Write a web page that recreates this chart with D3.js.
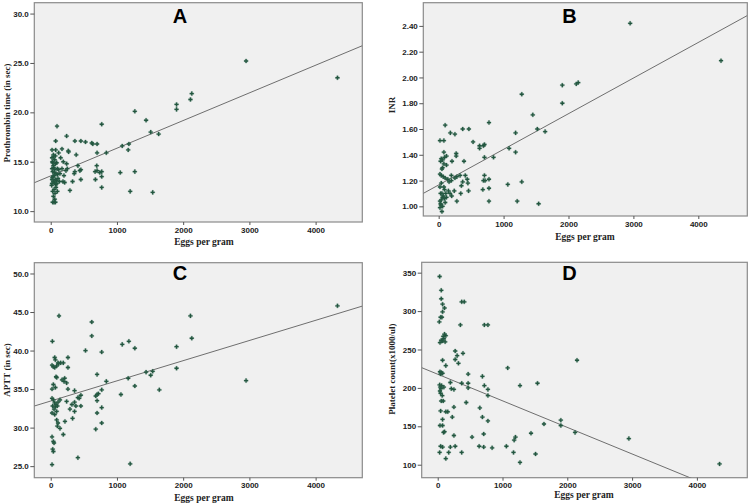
<!DOCTYPE html>
<html>
<head>
<meta charset="utf-8">
<script src="https://cdn.jsdelivr.net/npm/d3@7"></script>
<style>
    body { margin: 0; background: #fff; }
    svg { display: block; }
    .tick text { font-family: "Liberation Sans", Arial, sans-serif; font-size: 8px; font-weight: bold; fill: #222; }
    .tick line, .domain { stroke: #555; }
</style>
</head>
<body>
<svg id="chart" width="753" height="503"></svg>
<script>
// region Data (eggs per gram, measured value)
const eggTicks = [0, 1000, 2000, 3000, 4000];

const prothrombin = [
    [4330, 23.5], [2950, 25.2], [2130, 21.9], [2110, 21.3], [1900, 20.8], [1900, 20.3], [1270, 20.1], [1440, 19.2],
    [1510, 18.0], [1630, 17.8], [1180, 16.8], [1080, 16.6], [1170, 16.2], [1270, 14.0], [1050, 13.9], [1200, 12.0],
    [1540, 11.9], [770, 18.8], [840, 15.9], [700, 16.8], [700, 15.9], [620, 16.9], [635, 16.8], [525, 17.0],
    [455, 17.1], [365, 17.1], [240, 17.6], [95, 18.6], [75, 17.1], [770, 14.0], [740, 13.9], [700, 14.1],
    [670, 14.0], [695, 14.6], [770, 13.5], [675, 13.2], [770, 12.4], [410, 14.6], [455, 14.2], [440, 14.1],
    [365, 14.0], [355, 13.8], [330, 13.0], [455, 13.2], [290, 12.1], [385, 15.7], [265, 16.1], [270, 16.0],
    [170, 16.3], [120, 15.9], [20, 16.2], [75, 16.2], [40, 15.7], [20, 15.4], [60, 15.2], [150, 15.4],
    [25, 15.0], [70, 14.8], [90, 14.9], [40, 14.6], [20, 14.3], [60, 14.2], [100, 14.3], [30, 14.0],
    [80, 13.8], [50, 13.6], [20, 13.2], [70, 13.2], [110, 13.3], [40, 13.0], [90, 12.8], [60, 12.9],
    [20, 12.8], [130, 13.0], [80, 12.4], [50, 12.2], [100, 12.0], [30, 12.0], [65, 11.8], [40, 11.5],
    [60, 11.2], [30, 10.9], [70, 10.9], [50, 10.9], [170, 14.3], [230, 14.1], [140, 13.8], [200, 13.6],
    [190, 15.0], [240, 14.8], [120, 14.2], [250, 14.3], [210, 12.9], [185, 13.0], [30, 14.9], [45, 14.4],
    [55, 13.9], [35, 13.5], [85, 13.1], [15, 12.6], [75, 12.7], [100, 13.7], [25, 13.4], [45, 15.5], [70, 15.6]
];

const inr = [
    [4350, 2.13], [2950, 2.42], [2120, 1.95], [2150, 1.96], [1905, 1.94], [1905, 1.80], [1280, 1.87], [1450, 1.71],
    [1520, 1.60], [1640, 1.58], [1185, 1.57], [1085, 1.45], [1185, 1.42], [1280, 1.19], [1065, 1.17], [1210, 1.04],
    [1540, 1.02], [775, 1.65], [845, 1.38], [705, 1.48], [690, 1.47], [630, 1.47], [630, 1.45], [530, 1.50],
    [705, 1.38], [465, 1.60], [370, 1.60], [250, 1.56], [180, 1.57], [100, 1.63], [270, 1.41], [270, 1.39],
    [390, 1.35], [205, 1.35], [705, 1.24], [715, 1.20], [690, 1.20], [775, 1.21], [775, 1.14], [680, 1.13],
    [775, 1.04], [20, 1.51], [80, 1.51], [80, 1.42], [40, 1.37], [30, 1.35], [60, 1.36], [90, 1.38],
    [120, 1.39], [80, 1.33], [120, 1.32], [50, 1.29], [60, 1.30], [20, 1.25], [40, 1.24], [70, 1.23],
    [100, 1.22], [140, 1.21], [195, 1.24], [250, 1.22], [280, 1.23], [330, 1.24], [410, 1.24], [440, 1.21],
    [370, 1.19], [450, 1.18], [350, 1.16], [195, 1.20], [160, 1.19], [40, 1.18], [20, 1.15], [80, 1.15],
    [90, 1.13], [50, 1.10], [30, 1.10], [70, 1.08], [110, 1.10], [60, 1.07], [150, 1.12], [40, 1.05],
    [20, 1.04], [90, 1.06], [30, 1.02], [60, 1.00], [120, 1.07], [200, 1.08], [240, 1.12], [175, 1.10],
    [280, 1.04], [340, 1.10], [460, 1.12], [50, 0.96], [20, 0.99], [35, 1.01], [100, 1.03]
];

const aptt = [
    [4330, 45.8], [2950, 36.1], [2110, 44.5], [2130, 41.6], [1900, 40.5], [1900, 37.7], [1540, 37.3], [1510, 36.8],
    [1440, 37.2], [1640, 34.9], [1270, 40.3], [1180, 41.2], [1080, 40.8], [1170, 36.4], [1270, 35.4], [1060, 34.3],
    [1200, 25.3], [770, 39.8], [840, 36.0], [700, 36.9], [620, 43.7], [620, 41.9], [525, 40.0], [125, 44.5],
    [25, 41.2], [770, 34.9], [700, 34.3], [680, 34.1], [720, 34.4], [700, 33.5], [770, 32.6], [700, 31.9],
    [770, 30.6], [680, 29.8], [60, 39.1], [70, 38.8], [260, 39.1], [110, 38.4], [120, 38.3], [20, 38.1],
    [40, 37.9], [60, 37.8], [90, 38.0], [150, 38.4], [190, 38.4], [260, 37.8], [80, 36.6], [90, 36.5],
    [170, 36.2], [210, 36.4], [240, 35.8], [200, 36.0], [40, 35.6], [70, 35.2], [20, 35.0], [260, 35.0],
    [360, 34.8], [430, 33.8], [455, 34.2], [410, 33.9], [20, 33.8], [40, 33.6], [60, 33.2], [80, 33.0],
    [100, 32.8], [30, 32.8], [70, 32.7], [110, 33.3], [50, 32.4], [90, 32.1], [20, 31.9], [60, 31.7],
    [140, 33.6], [240, 33.4], [320, 33.0], [380, 32.8], [455, 32.8], [360, 33.3], [290, 32.4], [360, 32.1],
    [330, 31.2], [215, 30.8], [90, 31.0], [110, 30.6], [100, 30.2], [140, 29.9], [190, 29.1], [20, 28.8],
    [40, 28.2], [50, 28.0], [30, 27.2], [40, 26.9], [410, 26.1], [20, 25.2]
];

const platelets = [
    [4350, 101], [2950, 134], [2150, 236], [2120, 142], [1900, 158], [1900, 151], [1640, 153], [1540, 206],
    [1510, 114], [1440, 141], [1270, 203], [1270, 103], [1200, 136], [1180, 132], [1170, 116], [1080, 226],
    [1060, 124], [840, 122], [775, 282], [720, 282], [775, 198], [720, 203], [775, 190], [775, 157],
    [690, 215], [650, 174], [690, 162], [710, 140], [710, 123], [640, 124], [530, 136], [470, 218],
    [470, 206], [470, 200], [440, 181], [370, 312], [410, 312], [350, 282], [390, 245], [370, 206],
    [320, 232], [300, 242], [270, 248], [270, 237], [250, 198], [250, 175], [250, 138], [270, 124],
    [370, 116], [210, 199], [195, 207], [225, 162], [195, 123], [170, 116], [125, 108], [30, 345],
    [55, 327], [55, 316], [75, 309], [105, 304], [75, 299], [45, 292], [65, 292], [25, 286],
    [105, 270], [85, 267], [125, 268], [55, 262], [35, 259], [75, 261], [115, 260], [95, 264],
    [75, 236], [125, 229], [35, 221], [55, 220], [75, 219], [45, 218], [30, 204], [40, 201],
    [50, 199], [35, 196], [45, 193], [60, 203], [95, 201], [70, 190], [55, 183], [85, 183],
    [45, 170], [125, 169], [155, 169], [75, 159], [35, 151], [75, 151], [105, 143], [90, 142],
    [45, 124], [75, 123], [30, 116]
];

// fit lines: [intercept, slope]
const ptFit = [13.57, 0.0028];
const inrFit = [1.166, 0.0002764];
const apttFit = [33.45, 0.002618];
const plateletFit = [217.8, -0.0346];

const ptTicks = [10, 15, 20, 25, 30];
const inrTicks = [1.0, 1.2, 1.4, 1.6, 1.8, 2.0, 2.2, 2.4];
const apttTicks = [25, 30, 35, 40, 45, 50];
const plateletTicks = [100, 150, 200, 250, 300, 350];
// endregion

// region Panels
const panels = [
    {letter: 'A', data: prothrombin, fit: ptFit, ticks: ptTicks, fmt: '.1f', yDom: [8.9, 31.1], xDom: [-248, 4705],
        box: [34.3, 2.7, 362.3, 222], yTitle: 'Prothrombin time (in sec)', yTitleX: 7, yTitleY: 113, xTitleX: 204, xTitleY: 245, letterX: 180, letterY: 23},
    {letter: 'B', data: inr, fit: inrFit, ticks: inrTicks, fmt: '.2f', yDom: [0.925, 2.58], xDom: [-237, 4755],
        box: [423.3, 2.7, 747.3, 216], yTitle: 'INR', yTitleX: 392, yTitleY: 105, xTitleX: 585, xTitleY: 240, letterX: 569.5, letterY: 23},
    {letter: 'C', data: aptt, fit: apttFit, ticks: apttTicks, fmt: '.1f', yDom: [23.5, 51.4], xDom: [-248, 4705],
        box: [34.3, 262.7, 362.3, 477.7], yTitle: 'APTT (in sec)', yTitleX: 7, yTitleY: 370, xTitleX: 204, xTitleY: 501, letterX: 180, letterY: 280},
    {letter: 'D', data: platelets, fit: plateletFit, ticks: plateletTicks, fmt: 'd', yDom: [83.1, 363.5], xDom: [-247, 4778],
        box: [421.7, 262.3, 747.3, 477.7], yTitle: 'Platelet count(x1000/ul)', yTitleX: 392, yTitleY: 369, xTitleX: 584, xTitleY: 497.5, letterX: 569.5, letterY: 279.5}
];
// endregion

const svg = d3.select('#chart');
const serif = '"Liberation Serif", "Times New Roman", serif';

panels.forEach((p, i) => {
    let [l, t, r, b] = p.box;

    const x = d3.scaleLinear().domain(p.xDom).range([l, r]);
    const y = d3.scaleLinear().domain(p.yDom).range([b, t]);

    let g = svg.append('g').attr('class', 'panel');

    g.append('rect')
        .attr('x', l).attr('y', t)
        .attr('width', r - l).attr('height', b - t)
        .attr('fill', '#f0f0f0')
        .attr('stroke', '#8a8a8a')
        .attr('stroke-width', 1.2);

    g.append('clipPath').attr('id', 'clip' + i)
        .append('rect')
        .attr('x', l).attr('y', t)
        .attr('width', r - l).attr('height', b - t);

    // axes
    g.append('g')
        .attr('transform', `translate(${l},0)`)
        .call(d3.axisLeft(y).tickValues(p.ticks).tickFormat(d3.format(p.fmt)).tickSize(4).tickPadding(1.5))
        .call(a => a.select('.domain').remove());

    g.append('g')
        .attr('transform', `translate(0,${b})`)
        .call(d3.axisBottom(x).tickValues(eggTicks).tickFormat(d3.format('d')).tickSize(3).tickPadding(2))
        .call(a => a.select('.domain').remove());

    // fit line
    g.append('line')
        .attr('clip-path', `url(#clip${i})`)
        .attr('x1', x(p.xDom[0])).attr('y1', y(p.fit[0] + p.fit[1] * p.xDom[0]))
        .attr('x2', x(p.xDom[1])).attr('y2', y(p.fit[0] + p.fit[1] * p.xDom[1]))
        .attr('stroke', '#6e6e6e')
        .attr('stroke-width', 1);

    // points
    g.selectAll('path.pt')
        .data(p.data).enter()
        .append('path')
        .attr('class', 'pt')
        .attr('d', d3.symbol(d3.symbolCross, 9))
        .attr('transform', d => `translate(${x(d[0])},${y(d[1])})`)
        .attr('fill', '#24553f')
        .attr('stroke', '#2f6a50')
        .attr('stroke-width', 0.3);

    // titles
    g.append('text')
        .attr('x', p.xTitleX).attr('y', p.xTitleY)
        .attr('text-anchor', 'middle')
        .style('font-family', serif)
        .style('font-size', '9.5px')
        .style('font-weight', 'bold')
        .style('fill', '#222')
        .text('Eggs per gram');

    g.append('text')
        .attr('transform', `translate(${p.yTitleX},${p.yTitleY}) rotate(-90)`)
        .attr('text-anchor', 'middle')
        .attr('dominant-baseline', 'central')
        .style('font-family', serif)
        .style('font-size', '9px')
        .style('font-weight', 'bold')
        .style('fill', '#222')
        .text(p.yTitle);

    g.append('text')
        .attr('x', p.letterX).attr('y', p.letterY)
        .attr('text-anchor', 'middle')
        .style('font-family', '"Liberation Sans", Arial, sans-serif')
        .style('font-size', '20px')
        .style('font-weight', 'bold')
        .style('fill', '#000')
        .text(p.letter);
});
</script>
</body>
</html>
